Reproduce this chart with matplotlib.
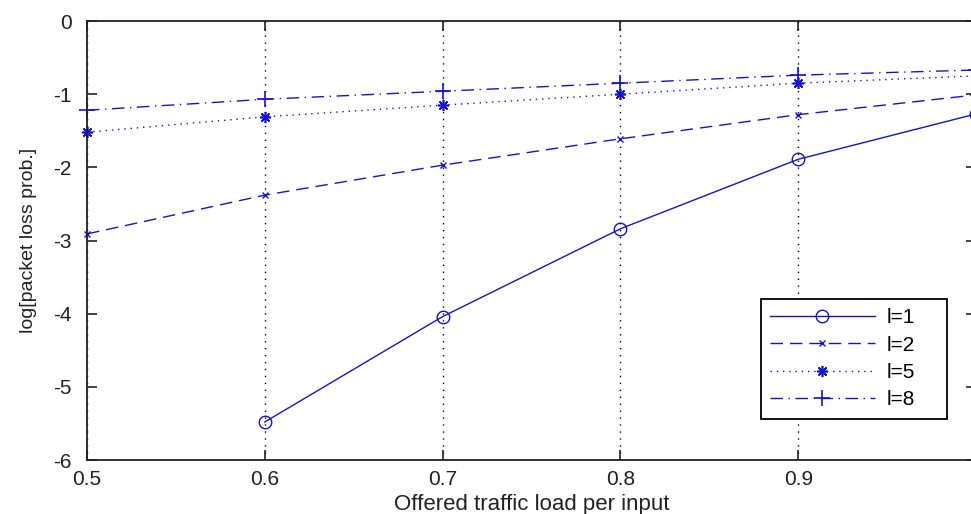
import matplotlib
matplotlib.use("Agg")
import matplotlib.pyplot as plt

# dati
carico = [0.5, 0.6, 0.7, 0.8, 0.9, 1.0]
carico_l1 = [0.6, 0.7, 0.8, 0.9, 1.0]
perdita_l1 = [-5.48, -4.04, -2.84, -1.89, -1.27]
perdita_l2 = [-2.91, -2.38, -1.97, -1.61, -1.28, -1.01]
perdita_l5 = [-1.52, -1.31, -1.15, -1.00, -0.85, -0.75]
perdita_l8 = [-1.22, -1.07, -0.96, -0.85, -0.74, -0.67]
etichette = ["l=1", "l=2", "l=5", "l=8"]
xtick = [0.5, 0.6, 0.7, 0.8, 0.9, 1.0]
ytick = [0, -1, -2, -3, -4, -5, -6]

plt.rcParams["font.family"] = ["Liberation Sans", "DejaVu Sans"]
blu = "#1414d0"

fig = plt.figure(figsize=(9.71, 5.14), dpi=100)
ax = fig.add_axes([87 / 971, 1 - 460 / 514, (976 - 87) / 971, (460 - 21) / 514])

ax.plot(carico_l1, perdita_l1, color=blu, lw=1.0, ls="-", marker="o",
        ms=9, mfc="none", mec=blu, mew=1.0, label=etichette[0], clip_on=False)
ax.plot(carico, perdita_l2, color=blu, lw=1.0, dashes=(9, 5), marker="x",
        ms=5, mew=1.0, label=etichette[1], clip_on=False)
ax.plot(carico, perdita_l5, color=blu, lw=1.0, dashes=(1, 3.5), marker=(8, 2, 0),
        ms=8, mew=1.2, label=etichette[2], clip_on=False)
ax.plot(carico, perdita_l8, color=blu, lw=1.0, dashes=(9, 4, 1, 4), marker="+",
        ms=11, mew=1.2, label=etichette[3], clip_on=False)

ax.set_xlim(0.5, 1.0)
ax.set_ylim(-6, 0)
ax.set_xticks(xtick)
ax.set_yticks(ytick)
# l'ultima etichetta (1) cade fuori dall'immagine
ax.set_xticklabels([("%g" % v) if v < 1.0 else "" for v in xtick], fontsize=15)
ax.set_yticklabels([("%g" % v) for v in ytick], fontsize=15)
ax.tick_params(direction="in", length=7, width=1.2, top=True, right=True,
               colors="#222222")
ax.tick_params(axis="x", pad=7)
ax.tick_params(axis="y", pad=11)
ax.xaxis.grid(True, color="black", ls=(0, (1, 4)), lw=1.0)
for s in ax.spines.values():
    s.set_linewidth(1.3)
    s.set_color("#222222")

ax.set_xlabel("Offered traffic load per input", fontsize=16, color="#222222", labelpad=4)
ax.set_ylabel("log[packet loss prob.]", fontsize=14, color="#222222", labelpad=12)

leg = ax.legend(loc="upper left", bbox_to_anchor=(761 / 971, 1 - 422 / 514, 186 / 971, 123 / 514),
                bbox_transform=fig.transFigure, mode="expand", fontsize=15, handlelength=5.0,
                fancybox=False, framealpha=1, edgecolor="black", borderaxespad=0,
                labelspacing=0.4, handletextpad=0.6, borderpad=0.45)
leg.get_frame().set_linewidth(1.3)

fig.savefig("out.png", dpi=100)
